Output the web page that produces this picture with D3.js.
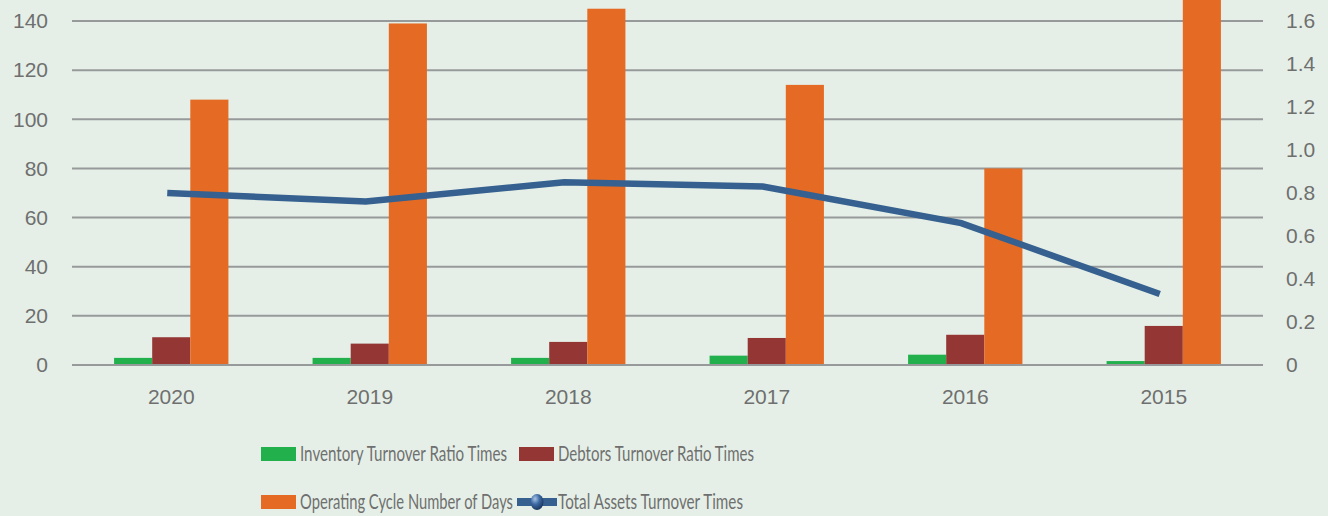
<!DOCTYPE html>
<html>
<head>
<meta charset="utf-8">
<script src="https://cdn.jsdelivr.net/npm/d3@7"></script>
<style>
  body { margin: 0; background: #e5efe7; }
  svg { display: block; font-family: Lato, "Open Sans", sans-serif; }
</style>
</head>
<body>
<svg id="chart"></svg>
<script>
var years = ["2020", "2019", "2018", "2017", "2016", "2015"];
var inventoryTurnover = [2.9, 2.9, 2.9, 3.8, 4.2, 1.6];
var debtorsTurnover = [11.3, 8.7, 9.4, 11.0, 12.3, 15.9];
var operatingCycle = [108, 139, 145, 114, 80, 165];
var totalAssetsTurnover = [0.80, 0.76, 0.85, 0.83, 0.66, 0.33];
var leftTicks = [0, 20, 40, 60, 80, 100, 120, 140];
var rightTicks = [0, 0.2, 0.4, 0.6, 0.8, 1.0, 1.2, 1.4, 1.6];

var barSeries = [
  { name: "Inventory Turnover Ratio Times", values: inventoryTurnover, color: "#21b04b" },
  { name: "Debtors Turnover Ratio Times", values: debtorsTurnover, color: "#943634" },
  { name: "Operating Cycle Number of Days", values: operatingCycle, color: "#e56b24" }
];
var lineName = "Total Assets Turnover Times";
var lineColor = "#35608f";

/**
 * Draws the combined bar + line chart.
 */
function drawChart() {
  var width = 1328, height = 516;
  var plot = { left: 72, right: 1263, top: 21, bottom: 365 };
  var textColor = "#6f6f6f";
  var gridColor = "#979a9a";

  var svg = d3.select("#chart")
    .attr("width", width)
    .attr("height", height);

  svg.append("rect")
    .attr("width", width)
    .attr("height", height)
    .attr("fill", "#e5efe7");

  var xScale = d3.scaleBand()
    .domain(years)
    .range([plot.left, plot.right]);

  var inner = d3.scaleBand()
    .domain(barSeries.map(function(d) { return d.name; }))
    .range([xScale.bandwidth() * 0.212, xScale.bandwidth() * 0.788]);

  var yLeft = d3.scaleLinear()
    .domain([0, 140])
    .range([plot.bottom, plot.top]);

  var yRight = d3.scaleLinear()
    .domain([0, 1.6])
    .range([plot.bottom, plot.top]);

  // gridlines
  svg.append("g")
    .selectAll("line")
    .data(leftTicks)
    .enter().append("line")
    .attr("x1", plot.left)
    .attr("x2", plot.right)
    .attr("y1", function(d) { return yLeft(d); })
    .attr("y2", function(d) { return yLeft(d); })
    .attr("stroke", gridColor)
    .attr("stroke-width", 2);

  // bars
  barSeries.forEach(function(s) {
    svg.append("g")
      .selectAll("rect")
      .data(s.values)
      .enter().append("rect")
      .attr("x", function(d, i) { return xScale(years[i]) + inner(s.name); })
      .attr("y", function(d) { return yLeft(d); })
      .attr("width", inner.bandwidth())
      .attr("height", function(d) { return plot.bottom - yLeft(d); })
      .attr("fill", s.color);
  });

  // baseline over the bars
  svg.append("line")
    .attr("x1", plot.left)
    .attr("x2", plot.right)
    .attr("y1", plot.bottom)
    .attr("y2", plot.bottom)
    .attr("stroke", gridColor)
    .attr("stroke-width", 2);

  // line series on secondary axis
  var line = d3.line()
    .x(function(d, i) { return xScale(years[i]) + xScale.bandwidth() / 2 - 4; })
    .y(function(d) { return yRight(d); });

  svg.append("path")
    .datum(totalAssetsTurnover)
    .attr("d", line)
    .attr("fill", "none")
    .attr("stroke", lineColor)
    .attr("stroke-width", 6.5);

  // left axis
  svg.append("g")
    .attr("transform", "translate(48,0)")
    .call(d3.axisLeft(yLeft).tickValues(leftTicks).tickSize(0).tickPadding(0))
    .call(function(g) { g.select(".domain").remove(); })
    .selectAll("text")
    .attr("fill", textColor)
    .style("font-size", "21px");

  // right axis
  svg.append("g")
    .attr("transform", "translate(1286,0)")
    .call(d3.axisRight(yRight).tickValues(rightTicks).tickSize(0).tickPadding(0)
      .tickFormat(function(d) { return d === 0 ? "0" : d3.format(".1f")(d); }))
    .call(function(g) { g.select(".domain").remove(); })
    .selectAll("text")
    .attr("fill", textColor)
    .style("font-size", "21px");

  // x axis
  svg.append("g")
    .attr("transform", "translate(0," + plot.bottom + ")")
    .call(d3.axisBottom(xScale).tickSize(0).tickPadding(24))
    .call(function(g) { g.select(".domain").remove(); })
    .selectAll("text")
    .attr("fill", textColor)
    .style("font-size", "21px");

  drawLegend(svg, textColor);
}

/**
 * Draws the two-row legend below the plot.
 *
 * @param {Object} svg - the svg reference
 * @param {string} textColor - legend text colour
 */
function drawLegend(svg, textColor) {
  var items = [
    { name: barSeries[0].name, color: barSeries[0].color, x: 261, y: 454, w: 207, type: "bar" },
    { name: barSeries[1].name, color: barSeries[1].color, x: 519, y: 454, w: 196, type: "bar" },
    { name: barSeries[2].name, color: barSeries[2].color, x: 261, y: 502, w: 213, type: "bar" },
    { name: lineName, color: lineColor, x: 517, y: 502, w: 185, type: "line" }
  ];

  var defs = svg.append("defs");
  var grad = defs.append("radialGradient")
    .attr("id", "ball")
    .attr("cx", "35%").attr("cy", "30%").attr("r", "70%");
  grad.append("stop").attr("offset", "0%").attr("stop-color", "#a9c4e6");
  grad.append("stop").attr("offset", "50%").attr("stop-color", "#3d6aa3");
  grad.append("stop").attr("offset", "100%").attr("stop-color", "#1d3a62");

  var g = svg.append("g");
  items.forEach(function(d) {
    var textX;
    if (d.type === "bar") {
      g.append("rect")
        .attr("x", d.x)
        .attr("y", d.y - 7)
        .attr("width", 35)
        .attr("height", 14)
        .attr("fill", d.color);
      textX = d.x + 39;
    } else {
      g.append("rect")
        .attr("x", d.x)
        .attr("y", d.y - 4)
        .attr("width", 40)
        .attr("height", 8)
        .attr("fill", d.color);
      g.append("ellipse")
        .attr("cx", d.x + 20)
        .attr("cy", d.y)
        .attr("rx", 6.5)
        .attr("ry", 8)
        .attr("fill", "url(#ball)");
      textX = d.x + 41;
    }
    // Calibri-like narrow text: squeeze to the width seen in the original
    g.append("text")
      .attr("x", textX)
      .attr("y", d.y)
      .attr("dy", "0.35em")
      .attr("fill", textColor)
      .attr("textLength", d.w)
      .attr("lengthAdjust", "spacingAndGlyphs")
      .style("font-size", "21px")
      .text(d.name);
  });
}

drawChart();
</script>
</body>
</html>
